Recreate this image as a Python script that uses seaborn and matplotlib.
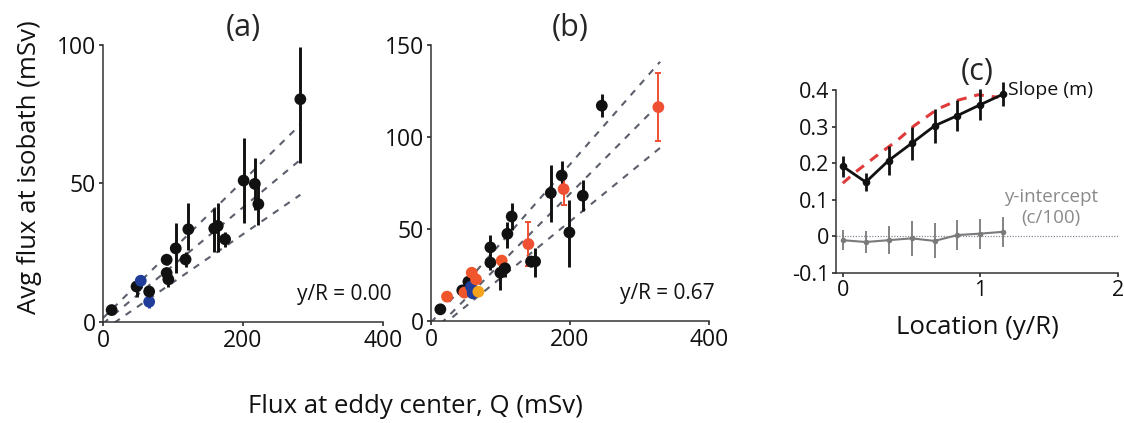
import numpy as np
import pandas as pd
import matplotlib
matplotlib.use("Agg")
import matplotlib.pyplot as plt
import seaborn as sns

# ---------------- data ----------------
# panel (a): y/R = 0.00
a_x = [12.4, 48, 54, 66, 66, 91, 91, 93.4, 104, 118, 122, 159, 164, 174.5, 201, 217, 222, 282]
a_y = [4.2, 12.7, 14.8, 7.2, 10.9, 22.4, 17.6, 15.3, 26.5, 22.5, 33.4, 33.7, 34.6, 29.8, 51.0, 49.8, 42.5, 80.4]
a_lo = [3.5, 9.0, 12.0, 4.8, 9.5, 20.5, 16.3, 12.7, 17.5, 19.6, 25.9, 25.3, 25.3, 27.1, 35.8, 40.4, 34.9, 57.2]
a_hi = [5.0, 15.7, 16.9, 9.0, 12.0, 24.1, 19.3, 17.5, 35.8, 25.3, 43.0, 41.0, 43.0, 32.5, 66.3, 59.0, 50.6, 99.2]
a_grp = ["black", "black", "blue", "blue", "black", "black", "black", "black", "black",
         "black", "black", "black", "black", "black", "black", "black", "black", "black"]
a_slopes = [0.248, 0.21, 0.174]
a_icpts = [1.3, -0.7, -3.2]
a_line_x = [0, 282]

# panel (b): y/R = 0.67
b_x = [13.4, 23, 45, 53.8, 48, 57.6, 60, 58.6, 64.8, 68.2, 85.5, 85.5, 101.8, 99.9, 106.6,
       110, 116.2, 140.2, 144, 149.9, 172.5, 188.3, 191, 199.3, 218.6, 246, 327.5]
b_y = [6.2, 13.1, 16.5, 21.2, 15.3, 18.5, 14.9, 26.1, 22.5, 15.8, 39.9, 31.6, 32.7, 26.1, 28.5,
       47.3, 56.7, 41.7, 32.2, 32.2, 69.5, 79.0, 71.6, 48.0, 68.0, 117.0, 116.2]
b_lo = [5.5, 12.5, 15.5, 20.0, 14.5, 17.5, 14.0, 25.0, 21.5, 15.0, 33.1, 27.6, 31.3, 16.7, 24.0,
        39.5, 49.5, 29.5, 29.1, 24.0, 53.5, 73.1, 63.1, 29.1, 59.5, 110.9, 98.0]
b_hi = [7.0, 13.7, 17.5, 22.5, 16.1, 19.5, 15.8, 27.2, 23.5, 16.6, 46.7, 34.9, 35.8, 33.1, 31.3,
        53.5, 64.0, 53.5, 34.9, 39.5, 84.9, 86.7, 77.6, 65.8, 76.7, 123.1, 134.5]
b_grp = ["black", "orange", "black", "black", "orange", "blue", "blue", "orange", "orange", "yellow",
         "black", "black", "orange", "black", "black", "black", "black", "red", "black", "black",
         "black", "black", "red", "black", "black", "black", "red"]
b_slopes = [0.43, 0.38, 0.308]
b_icpts = [-1.0, -7.0, -7.6]
b_line_x = [0, 330]

# panel (c)
c_loc = [0, 0.167, 0.333, 0.5, 0.667, 0.833, 1.0, 1.167]
c_slope = [0.191, 0.148, 0.207, 0.254, 0.302, 0.330, 0.360, 0.389]
c_slope_err = [0.028, 0.025, 0.039, 0.045, 0.047, 0.043, 0.043, 0.032]
c_icpt = [-0.011, -0.016, -0.011, -0.006, -0.013, 0.003, 0.007, 0.012]
c_icpt_err = [0.028, 0.030, 0.039, 0.048, 0.048, 0.041, 0.041, 0.041]
c_fit_x = [0, 0.091, 0.249, 0.396, 0.518, 0.689, 0.836, 0.983, 1.13]
c_fit_y = [0.145, 0.175, 0.221, 0.262, 0.302, 0.348, 0.372, 0.387, 0.380]

colors = {"black": "#111111", "blue": "#1f3d99", "orange": "#f0552b",
          "red": "#ef4f33", "yellow": "#f7a21b"}

# ---------------- style ----------------
sns.set_theme(style="ticks")
plt.rcParams["font.family"] = ["Open Sans", "DejaVu Sans"]
plt.rcParams["axes.edgecolor"] = "#333333"
plt.rcParams["axes.linewidth"] = 1.1
plt.rcParams["xtick.major.size"] = 3
plt.rcParams["ytick.major.size"] = 3
plt.rcParams["xtick.color"] = "#333333"
plt.rcParams["ytick.color"] = "#333333"
plt.rcParams["xtick.labelcolor"] = "#111111"
plt.rcParams["ytick.labelcolor"] = "#111111"

fig = plt.figure(figsize=(11.24, 4.23), dpi=100)
ax_a = fig.add_axes([0.0916, 0.2395, 0.2491, 0.6541])
ax_b = fig.add_axes([0.3835, 0.2418, 0.2470, 0.6518])
ax_c = fig.add_axes([0.7438, 0.3553, 0.2509, 0.4319])

TICK_FS = 16.5
LABEL_FS = 18.5
TITLE_FS = 22


def scatter_panel(ax, xs, ys, lo, hi, grp, slopes, icpts, line_x):
    df = pd.DataFrame({"x": xs, "y": ys, "lo": lo, "hi": hi, "grp": grp})
    # dashed fit lines
    lx = np.array(line_x, dtype=float)
    for m, c in zip(slopes, icpts):
        ax.plot(lx, m * lx + c, ls=(0, (3.2, 3.4)), lw=1.5, color="#5b5f6b", zorder=1)
    # error bars
    for _, r in df.iterrows():
        col = colors[r.grp]
        if r.grp == "red":
            ax.errorbar(r.x, r.y, yerr=[[r.y - r.lo], [r.hi - r.y]], fmt="none",
                        ecolor=col, elinewidth=1.4, capsize=2.5, capthick=1.4, zorder=2)
        else:
            ax.errorbar(r.x, r.y, yerr=[[r.y - r.lo], [r.hi - r.y]], fmt="none",
                        ecolor=col, elinewidth=2.1, capsize=0, zorder=2)
    sns.scatterplot(data=df, x="x", y="y", hue="grp", palette=colors, s=72,
                    edgecolor="none", legend=False, ax=ax, zorder=3)
    ax.set_xlim(0, 400)
    ax.set_xticks([0, 200, 400])
    ax.set_xlabel("")
    ax.set_ylabel("")
    ax.tick_params(labelsize=TICK_FS, pad=2)
    sns.despine(ax=ax)


scatter_panel(ax_a, a_x, a_y, a_lo, a_hi, a_grp, a_slopes, a_icpts, a_line_x)
ax_a.set_ylim(0, 100)
ax_a.set_yticks([0, 50, 100])
ax_a.text(0.5, 1.062, "(a)", transform=ax_a.transAxes, ha="center", va="center", fontsize=TITLE_FS)
ax_a.text(1.032, 0.0965, "y/R = 0.00", transform=ax_a.transAxes, ha="right", va="center",
          fontsize=15, color="#111111")

scatter_panel(ax_b, b_x, b_y, b_lo, b_hi, b_grp, b_slopes, b_icpts, b_line_x)
ax_b.set_ylim(0, 150)
ax_b.set_yticks([0, 50, 100, 150])
ax_b.text(0.5, 1.062, "(b)", transform=ax_b.transAxes, ha="center", va="center", fontsize=TITLE_FS)
ax_b.text(1.023, 0.10, "y/R = 0.67", transform=ax_b.transAxes, ha="right", va="center",
          fontsize=15, color="#111111")

# panel (c)
ax_c.axhline(0, color="#8a8a9a", lw=0.9, ls=(0, (1, 1.2)), zorder=1)
ax_c.plot(c_fit_x, c_fit_y, color="#e03a3a", lw=2.2, ls=(0, (3.2, 2.6)), zorder=2)
cdf = pd.DataFrame({"loc": c_loc, "slope": c_slope, "icpt": c_icpt})
ax_c.errorbar(c_loc, c_icpt, yerr=c_icpt_err, fmt="none", ecolor="#7a7a7a",
              elinewidth=1.3, capsize=0, zorder=2)
sns.lineplot(data=cdf, x="loc", y="icpt", color="#7a7a7a", lw=1.5, marker="o",
             markersize=4, markeredgewidth=0, ax=ax_c, zorder=3)
ax_c.errorbar(c_loc, c_slope, yerr=c_slope_err, fmt="none", ecolor="#111111",
              elinewidth=2.0, capsize=0, zorder=4, clip_on=False)
sns.lineplot(data=cdf, x="loc", y="slope", color="#111111", lw=2.0, marker="o",
             markersize=5.5, markeredgewidth=0, ax=ax_c, zorder=5, clip_on=False)
ax_c.set_xlim(-0.049, 2.0)
ax_c.set_ylim(-0.1, 0.4)
ax_c.set_xticks([0, 1, 2])
ax_c.set_yticks([-0.1, 0, 0.1, 0.2, 0.3, 0.4])
ax_c.set_yticklabels(["-0.1", "0", "0.1", "0.2", "0.3", "0.4"])
ax_c.set_xlabel("")
ax_c.set_ylabel("")
ax_c.tick_params(labelsize=15.5, pad=2)
sns.despine(ax=ax_c)
ax_c.text(0.5, 1.098, "(c)", transform=ax_c.transAxes, ha="center", va="center", fontsize=TITLE_FS)
ax_c.text(1.20, 0.40, "Slope (m)", ha="left", va="center", fontsize=14, color="#111111")
ax_c.text(1.515, 0.107, "y-intercept", ha="center", va="center", fontsize=13.5, color="#8a8a8a")
ax_c.text(1.515, 0.049, "(c/100)", ha="center", va="center", fontsize=13.5, color="#8a8a8a")

# shared labels
fig.text(30 / 1124, 1 - 167 / 423, "Avg flux at isobath (mSv)", rotation=90,
         ha="center", va="center", fontsize=LABEL_FS, color="#111111")
fig.text(415 / 1124, 1 - 406 / 423, "Flux at eddy center, Q (mSv)",
         ha="center", va="center", fontsize=LABEL_FS, color="#111111")
fig.text(977 / 1124, 1 - 327 / 423, "Location (y/R)",
         ha="center", va="center", fontsize=LABEL_FS, color="#111111")

fig.savefig("out.png", dpi=100)
